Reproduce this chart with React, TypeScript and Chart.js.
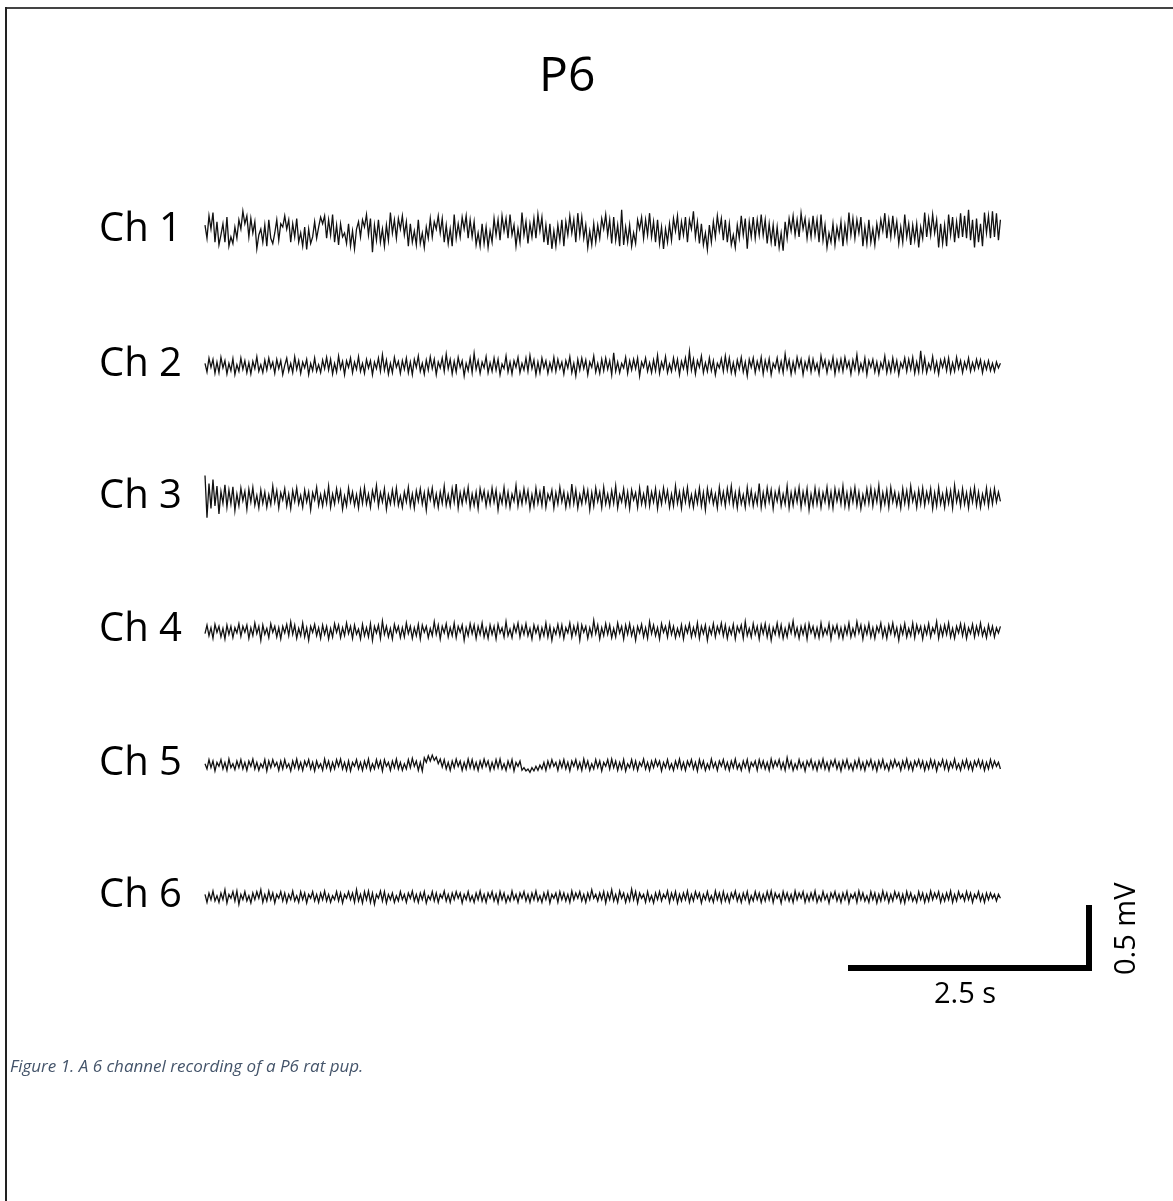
import React, { useEffect, useRef } from "react";
import { Chart, registerables } from "chart.js";

Chart.register(...registerables);

// ---------------- DATA (µV, ~400 samples per channel over ~8.15 s) ----------------
const titleText = "P6";
const channelLabels = ["Ch 1", "Ch 2", "Ch 3", "Ch 4", "Ch 5", "Ch 6"];
const captionText = "Figure 1. A 6 channel recording of a P6 rat pup.";
const traceDurationS = 8.15;
const scaleBarSeconds = 2.5;
const scaleBarMillivolts = 0.5;
const scaleBarTimeLabel = "2.5 s";
const scaleBarVoltLabel = "0.5 mV";

const ch1 = [
  45, -55, 115, 15, 140, -85, 70, -105, -30, 55, -85, 105, -115, -45, -95, 30, -55, 85, 15, 150,
  55, 115, -45, 95, -15, 70, -135, -30, 15, -85, 45, -115, 85, -55, -95, -15, 85, -70, 55, 30,
  115, 15, 85, -85, 55, -45, 95, -85, -15, -115, 30, -140, 15, -95, -45, 70, -55, 30, 105, 55,
  115, -55, 85, -30, 125, -85, 45, -105, 55, -45, -15, -95, 55, -115, 0, -135, 15, 70, -45, 85,
  30, 125, -30, 95, -160, 45, -70, 85, -85, 15, -115, 45, -70, 140, -15, 85, -55, 95, 15, 115,
  -30, 70, -115, 55, -85, 0, -105, 85, -95, -15, -125, 30, -55, 95, -45, 70, 15, 115, -15, 95,
  -85, 45, -95, 15, -115, 125, -55, 55, -45, 105, 15, 115, -55, 85, -45, 70, -105, -15, -115, 55,
  -95, 30, -125, 0, -85, 95, -30, 85, -70, 115, 0, 95, -55, 125, -30, 45, -115, 15, -85, 140,
  -30, 70, -95, 55, -45, 95, -55, 125, 0, 105, -85, 45, -105, 55, -135, 0, -115, 45, -70, 85,
  -115, 70, -30, 115, -15, 85, -85, 135, -30, 105, -55, 45, -125, 0, -105, 55, -85, 45, -55, 95,
  15, 125, -30, 85, -95, 105, -70, 45, -115, 160, -105, 30, -85, 45, -115, -15, -95, 85, 15, 105,
  -55, 85, -30, 135, -45, 70, -85, 85, -95, 30, -135, 15, -85, 55, -70, 95, 0, 115, -70, 70,
  -30, 105, -85, 85, 15, 150, -45, 70, -95, 55, -105, -15, -140, 45, -85, 70, -45, 115, 0, 95,
  -70, 85, -85, 55, -105, -30, -125, 45, -55, 115, -30, 95, -135, 70, -45, 105, -55, 85, -30, 125,
  -30, 85, -95, 55, -85, 45, -115, 30, -125, -15, -150, 70, -55, 95, 0, 115, -30, 85, -45, 135,
  15, 95, -55, 70, -45, 115, -30, 85, -85, 125, -70, 45, -125, -15, -85, 55, -105, 30, -55, 70,
  -115, 45, -70, 140, -30, 95, -55, 85, -15, 105, -115, 30, -95, 85, -85, 15, -105, 55, -45, 85,
  0, 135, -55, 85, -45, 115, -30, 70, -95, 30, -85, 125, -45, 55, -105, 45, -70, 55, -125, 30,
  -55, 140, -45, 95, -30, 125, -15, 85, -125, 55, -95, 45, -115, 125, -30, 105, -85, 70, -55, 135,
  -45, 115, -55, 160, -70, 85, -125, 95, -85, 55, -115, 140, -15, 115, -55, 150, -45, 135, -70, 85,
];

const ch2 = [
  20, -45, 60, -10, 50, -55, 30, -50, 65, -15, 40, -60, 20, -35, 55, -65, 10, -40, 60, -25,
  40, -50, 25, -60, 35, -20, 70, -40, 10, -50, 45, -30, 60, -15, 30, -55, 50, -20, 40, -65,
  5, 60, -40, 20, -50, 70, -25, 40, -55, 30, -15, 50, -65, 20, -35, 60, -40, 10, -50, 45,
  -20, 65, -30, 50, -60, 20, -45, 75, -20, 35, -65, 40, -10, 60, -50, 30, -25, 70, -40, 20,
  -55, 50, -15, 40, -65, 30, -20, 60, -40, 85, -30, 45, -60, 20, -50, 65, -10, 35, -55, 40,
  -25, 60, -50, 30, -65, 50, -10, 75, -40, 20, -60, 45, -30, 70, -20, 50, -65, 30, -15, 60,
  -40, 90, -20, 50, -60, 35, -45, 65, -10, 40, -75, 20, -35, 60, -50, 95, -25, 40, -55, 30,
  -15, 70, -50, 25, -40, 60, -30, 50, -65, 15, -20, 75, -45, 30, -60, 40, -10, 65, -50, 20,
  -30, 60, -40, 80, -20, 45, -65, 30, -50, 60, -15, 40, -55, 25, -35, 65, -40, 50, -20, 30,
  -60, 40, -15, 70, -50, 20, -75, 50, -30, 60, -20, 45, -65, 30, -10, 75, -45, 20, -55, 50,
  -35, 60, -25, 40, -65, 100, -40, 30, -50, 20, -15, 65, -55, 40, -30, 50, -20, 60, -75, 30,
  -10, 60, -40, 25, -50, 45, -35, 80, -55, 30, -20, 70, -50, 15, -40, 60, -25, 50, -65, 35,
  -20, 60, -45, 110, -30, 50, -60, 40, -10, 75, -50, 25, -40, 60, -35, 40, -65, 20, -15, 55,
  -40, 75, -30, 60, -50, 25, -60, 45, -20, 65, -45, 30, -75, 50, -10, 60, -50, 35, -25, 65,
  -60, 40, -30, 55, -65, 20, -15, 60, -40, 35, -50, 90, -20, 45, -60, 30, -45, 65, -10, 50,
  -65, 30, -25, 60, -45, 50, -30, 20, -60, 75, -10, 45, -50, 35, -20, 65, -60, 40, -35, 50,
  -40, 65, -15, 35, -60, 45, -25, 85, -50, 20, -35, 60, -65, 40, -10, 50, -45, 30, -60, 25,
  -20, 75, -50, 30, -45, 60, -35, 40, -65, 25, -15, 60, -40, 50, -25, 65, -55, 30, -45, 115,
  -35, 60, -50, 20, -25, 70, -40, 30, -60, 45, -10, 55, -35, 60, -50, 25, -40, 65, -20, 40,
  -50, 30, -20, 60, -40, 25, -30, 50, -15, 45, -50, 30, -25, 40, -35, 20, -40, 30, -15, 20,
];

const ch3 = [
  170, -150, 110, -80, 140, -60, 90, -120, 50, -40, 100, -70, 60, -45, 85, -95, 30, -60, 75, -20,
  50, -85, 65, -30, 80, -55, 20, -75, 60, -40, 45, -70, 25, -50, 90, -30, 55, -75, 40, -15,
  70, -60, 30, -80, 55, -25, 75, -45, 20, -70, 60, -30, 45, -90, 40, -15, 80, -55, 25, -60,
  45, -40, 90, -70, 30, -45, 70, -25, 55, -85, 15, -60, 75, -30, 45, -55, 25, -75, 60, -40,
  80, -45, 30, -70, 55, -15, 95, -60, 40, -30, 70, -85, 25, -45, 60, -40, 75, -55, 15, -70,
  45, -30, 80, -60, 30, -75, 55, -25, 70, -45, 40, -90, 60, -15, 75, -55, 30, -70, 45, -40,
  90, -55, 25, -60, 70, -30, 105, -75, 40, -45, 60, -25, 80, -70, 30, -55, 45, -80, 70, -15,
  55, -60, 40, -45, 75, -30, 60, -90, 25, -40, 80, -55, 45, -70, 30, -25, 95, -60, 40, -45,
  70, -30, 55, -80, 25, -60, 75, -40, 45, -55, 90, -70, 30, -15, 60, -75, 40, -45, 80, -30,
  45, -70, 30, -55, 105, -40, 60, -75, 25, -45, 70, -30, 55, -90, 40, -60, 75, -25, 45, -70,
  80, -45, 30, -60, 55, -40, 90, -75, 25, -30, 70, -55, 45, -80, 60, -15, 40, -70, 75, -45,
  30, -55, 95, -60, 45, -30, 70, -80, 40, -45, 75, -25, 55, -70, 30, -60, 90, -40, 45, -75,
  60, -30, 80, -55, 25, -70, 45, -40, 75, -60, 40, -90, 70, -25, 55, -45, 30, -75, 80, -40,
  45, -60, 70, -30, 90, -55, 40, -75, 60, -45, 25, -70, 80, -40, 55, -60, 30, -45, 110, -70,
  40, -55, 75, -30, 60, -80, 45, -25, 70, -60, 30, -45, 90, -75, 40, -55, 60, -30, 80, -70,
  45, -40, 70, -90, 30, -55, 75, -45, 55, -70, 40, -30, 80, -60, 45, -75, 70, -25, 55, -45,
  90, -60, 40, -70, 60, -30, 80, -55, 45, -80, 25, -45, 70, -40, 75, -60, 55, -30, 95, -75,
  40, -45, 60, -70, 80, -30, 45, -55, 30, -75, 70, -40, 55, -60, 90, -25, 40, -70, 60, -45,
  75, -55, 45, -30, 70, -80, 40, -60, 80, -45, 30, -70, 60, -40, 55, -75, 95, -30, 45, -60,
  70, -45, 40, -75, 60, -30, 80, -55, 45, -70, 30, -40, 75, -60, 55, -45, 70, -30, 45, -25,
];

const ch4 = [
  -20, 45, -35, 25, -55, 50, -10, 35, -45, 20, -60, 45, -25, 35, -50, 25, -15, 55, -40, 35,
  -10, 45, -55, 25, -35, 60, -20, 35, -70, 45, -25, 20, -50, 55, -10, 35, -45, 25, -60, 35,
  -15, 50, -35, 70, -25, 45, -55, 20, -35, 60, -45, 25, -70, 35, -10, 50, -35, 25, -55, 45,
  -25, 35, -60, 20, -45, 55, -10, 45, -50, 25, -35, 60, -20, 35, -55, 45, -25, 15, -60, 50,
  -35, 25, -45, 55, -70, 35, -15, 45, -55, 75, -25, 35, -45, 20, -60, 50, -10, 35, -50, 25,
  -45, 60, -20, 35, -55, 25, -35, 50, -60, 45, -10, 35, -50, 20, -35, 70, -25, 45, -60, 35,
  -15, 55, -45, 25, -35, 60, -50, 35, -10, 45, -70, 25, -35, 55, -20, 45, -55, 35, -25, 60,
  -45, 20, -55, 45, -25, 35, -60, 50, -15, 25, -45, 70, -35, 15, -50, 45, -10, 60, -45, 35,
  -25, 55, -35, 20, -60, 45, -15, 35, -55, 25, -35, 60, -45, 35, -70, 20, -25, 50, -35, 45,
  -55, 25, -15, 60, -45, 35, -25, 50, -70, 45, -10, 35, -55, 25, -35, 80, -20, 45, -60, 25,
  -35, 55, -25, 45, -50, 20, -45, 60, -15, 35, -60, 45, -25, 55, -35, 25, -70, 35, -15, 50,
  -45, 25, -55, 70, -20, 45, -35, 25, -60, 55, -10, 35, -45, 60, -25, 35, -50, 20, -35, 45,
  -60, 35, -15, 55, -45, 25, -35, 60, -55, 35, -20, 45, -70, 25, -25, 55, -45, 35, -15, 60,
  -35, 45, -55, 25, -25, 50, -60, 35, -10, 45, -55, 70, -35, 20, -45, 55, -25, 35, -60, 45,
  -20, 55, -45, 35, -70, 25, -25, 60, -35, 45, -55, 20, -45, 50, -15, 75, -35, 25, -55, 35,
  -25, 45, -60, 55, -15, 35, -45, 25, -50, 60, -35, 20, -25, 55, -60, 35, -15, 45, -45, 25,
  -55, 35, -25, 60, -45, 20, -35, 70, -15, 45, -60, 35, -25, 55, -45, 25, -55, 35, -10, 60,
  -45, 25, -55, 45, -20, 60, -35, 25, -70, 35, -25, 55, -45, 20, -35, 60, -50, 45, -15, 35,
  -60, 35, -25, 55, -45, 25, -15, 70, -55, 35, -35, 45, -25, 60, -45, 20, -55, 35, -15, 55,
  -35, 45, -55, 25, -20, 50, -45, 35, -25, 60, -35, 20, -50, 45, -25, 35, -45, 25, -15, 35,
];

const ch5 = [
  10, -30, 40, -20, 30, -45, 20, -10, 40, -30, 20, -40, 45, -20, 10, -35, 30, -20, 40, -30,
  20, -40, 30, -10, 45, -30, 20, -40, 10, -20, 40, -45, 30, -20, 40, -10, 20, -40, 30, -30,
  40, -20, 10, -45, 30, -20, 45, -30, 20, -40, 30, -10, 40, -30, 20, -45, 30, -20, 10, -40,
  45, -20, 30, -40, 20, -30, 40, -10, 45, -30, 20, -40, 30, -45, 20, -10, 40, -30, 20, -40,
  30, -20, 45, -40, 10, -30, 40, -20, 30, -45, 40, -10, 20, -40, 30, -20, 45, -30, 20, -40,
  10, -30, 40, -20, 50, -10, 30, -40, 20, -45, 55, 20, 70, 30, 75, 35, 60, 10, 45, -15,
  40, -30, 20, -40, 30, -20, 45, -10, 30, -40, 20, -30, 45, -20, 40, -30, 20, -40, 30, -20,
  45, -10, 30, -40, 20, -30, 40, -20, 45, -30, 10, -40, 30, -20, 40, -45, 20, -10, 30, -40,
  -20, -45, -30, -55, -20, -45, -10, -40, 0, -30, 20, -40, 30, -20, 40, -10, 20, -40, 30, -20,
  40, -30, 20, -45, 30, -10, 40, -30, 20, -40, 45, -20, 30, -40, 10, -30, 40, -20, 30, -45,
  20, -10, 40, -30, 45, -20, 30, -40, 20, -30, 40, -45, 10, -20, 40, -30, 30, -40, 20, -10,
  45, -30, 20, -40, 30, -20, 40, -10, 30, -45, 20, -20, 40, -30, 10, -40, 30, -20, 45, -30,
  20, -40, 30, -10, 40, -30, 20, -45, 40, -20, 30, -40, 10, -30, 45, -20, 20, -40, 30, -10,
  40, -30, 20, -40, 30, -20, 45, -30, 10, -40, 30, -20, 40, -45, 20, -10, 30, -40, 40, -20,
  30, -30, 20, -40, 45, -20, 30, -10, 40, -30, 20, -40, 55, -20, 30, -40, 10, -30, 40, -20,
  20, -45, 30, -10, 40, -30, 20, -40, 30, -20, 45, -30, 20, -40, 30, -10, 40, -30, 20, -45,
  30, -20, 40, -30, 10, -40, 30, -20, 45, -30, 20, -40, 30, -10, 40, -30, 20, -45, 30, -20,
  40, -30, 10, -40, 30, -20, 40, -10, 20, -40, 30, -20, 45, -30, 20, -40, 30, -10, 40, -20,
  30, -40, 20, -30, 40, -20, 30, -45, 20, -10, 40, -30, 30, -40, 20, -20, 45, -30, 10, -40,
  30, -20, 40, -30, 20, -40, 30, -10, 40, -20, 30, -40, 20, -30, 40, -20, 30, -10, 20, -30,
];

const ch6 = [
  20, -40, 30, -20, 45, -30, 10, -40, 30, -20, 55, -45, 20, -10, 40, -30, 45, -55, 20, -20,
  40, -30, 10, -45, 30, -20, 40, -10, 55, -40, 20, -30, 45, -20, 30, -45, 20, -10, 40, -30,
  30, -40, 20, -20, 45, -30, 10, -40, 40, -20, 30, -45, 20, -10, 40, -30, 20, -40, 30, -20,
  45, -30, 20, -40, 10, -20, 40, -30, 30, -45, 20, -10, 40, -20, 30, -40, 55, -30, 20, -45,
  40, -20, 45, -40, 30, -55, 20, -10, 45, -30, 40, -45, 20, -20, 30, -40, 10, -30, 40, -20,
  20, -40, 30, -10, 45, -30, 20, -40, 30, -20, 40, -45, 10, -20, 40, -30, 30, -40, 20, -10,
  45, -30, 20, -40, 30, -20, 40, -10, 30, -45, 20, -20, 40, -30, 10, -40, 30, -20, 45, -30,
  20, -40, 30, -10, 40, -30, 20, -45, 40, -20, 30, -40, 10, -30, 45, -20, 20, -40, 30, -10,
  40, -30, 20, -40, 30, -20, 45, -30, 10, -40, 30, -20, 40, -45, 20, -10, 30, -40, 40, -20,
  30, -30, 20, -40, 45, -20, 30, -10, 40, -30, 20, -40, 30, -20, 55, -10, 20, -30, 30, -20,
  40, -45, 30, -20, 55, -30, 20, -40, 45, -10, 30, -40, 20, -30, 60, -20, 40, -45, 30, -10,
  20, -40, 40, -30, 10, -45, 30, -20, 40, -30, 20, -10, 45, -40, 30, -20, 40, -45, 20, -30,
  30, -20, 45, -40, 20, -30, 40, -10, 30, -45, 20, -20, 40, -30, 10, -40, 45, -20, 30, -40,
  40, -30, 20, -40, 30, -10, 45, -30, 20, -40, 30, -20, 40, -45, 10, -30, 40, -20, 30, -40,
  20, -30, 40, -20, 45, -40, 30, -10, 20, -45, 40, -20, 30, -30, 20, -40, 45, -20, 30, -10,
  40, -40, 20, -30, 30, -20, 45, -40, 10, -30, 40, -20, 20, -45, 30, -10, 40, -30, 20, -40,
  30, -20, 40, -45, 20, -10, 30, -40, 45, -20, 30, -30, 10, -40, 40, -20, 30, -45, 20, -30,
  45, -20, 30, -40, 20, -30, 40, -10, 30, -40, 20, -45, 40, -20, 30, -30, 10, -40, 40, -20,
  30, -40, 20, -30, 45, -20, 30, -10, 40, -40, 20, -30, 30, -20, 45, -40, 20, -30, 40, -10,
  20, -30, 40, -20, 30, -40, 20, -10, 40, -30, 20, -40, 30, -20, 30, -10, 20, -30, 20, -10,
];

const channels = [ch1, ch2, ch3, ch4, ch5, ch6];

// ---------------- LAYOUT ----------------
const W = 1173;
const H = 1201;
const FONT = '"Open Sans", "DejaVu Sans", sans-serif';
const PX_PER_S = 97.6;
const PX_PER_MV = 132;
const TRACE_LEFT = 205;
const channelCenterPx = [231, 366, 498, 631, 765, 897];
const barRightPx = 1092;
const barYPx = 968;
const barVertXPx = 1089;
const barBottomPx = 971;

const pxToT = (px: number) => (px - TRACE_LEFT) / PX_PER_S;
const pxToMv = (py: number) => -py / PX_PER_MV;

export default function App() {
  const ref = useRef<HTMLCanvasElement | null>(null);

  useEffect(() => {
    if (!ref.current) return;
    const datasets: any[] = channels.map((vals, k) => {
      const dt = traceDurationS / (vals.length - 1);
      const base = pxToMv(channelCenterPx[k]);
      return {
        label: channelLabels[k],
        data: vals.map((v, i) => ({ x: i * dt, y: base + v / 1000 })),
        borderColor: "#111",
        borderWidth: 1.3,
        pointRadius: 0,
        tension: 0,
        fill: false,
      };
    });
    const barEnd = pxToT(barRightPx);
    const barY = pxToMv(barYPx);
    datasets.push({
      label: "time bar",
      data: [
        { x: barEnd - scaleBarSeconds, y: barY },
        { x: barEnd, y: barY },
      ],
      borderColor: "#000",
      borderWidth: 6,
      borderCapStyle: "butt",
      pointRadius: 0,
    });
    const vx = pxToT(barVertXPx);
    const vb = pxToMv(barBottomPx);
    datasets.push({
      label: "volt bar",
      data: [
        { x: vx, y: vb },
        { x: vx, y: vb + scaleBarMillivolts },
      ],
      borderColor: "#000",
      borderWidth: 6,
      borderCapStyle: "butt",
      pointRadius: 0,
    });

    const chart = new Chart(ref.current, {
      type: "line",
      data: { datasets },
      options: {
        animation: false,
        responsive: false,
        maintainAspectRatio: false,
        layout: { padding: 0 },
        plugins: { legend: { display: false }, tooltip: { enabled: false }, title: { display: false } },
        scales: {
          x: { type: "linear", display: false, min: pxToT(0), max: pxToT(W) },
          y: { type: "linear", display: false, min: pxToMv(H), max: 0 },
        },
      },
    });
    return () => chart.destroy();
  }, []);

  const labelSize = 40;
  return (
    <div style={{ position: "absolute", left: 0, top: 0, width: W, height: H, background: "#fff", overflow: "hidden", fontFamily: FONT }}>
      <div style={{ position: "absolute", left: 5, top: 7, width: W - 5, height: 2, background: "#444" }} />
      <div style={{ position: "absolute", left: 5, top: 7, width: 2, height: H - 7, background: "#222" }} />
      <canvas ref={ref} width={W} height={H} style={{ position: "absolute", left: 0, top: 0 }} />
      <div style={{ position: "absolute", left: 539, top: 49, fontSize: 48, lineHeight: "48px", color: "#000" }}>{titleText}</div>
      {channelLabels.map((lab, k) => (
        <div key={lab} style={{ position: "absolute", left: 99, top: channelCenterPx[k] - 25, fontSize: labelSize, lineHeight: `${labelSize}px`, color: "#000", whiteSpace: "nowrap" }}>
          {lab}
        </div>
      ))}
      <div style={{ position: "absolute", left: 934, top: 977, fontSize: 29, lineHeight: "29px", color: "#000", whiteSpace: "nowrap" }}>{scaleBarTimeLabel}</div>
      <div style={{ position: "absolute", left: 1109, top: 975, transform: "rotate(-90deg)", transformOrigin: "0 0", fontSize: 29, lineHeight: "29px", color: "#000", whiteSpace: "nowrap" }}>{scaleBarVoltLabel}</div>
      <div style={{ position: "absolute", left: 10, top: 1056, fontSize: 17, lineHeight: "20px", fontStyle: "italic", color: "#44546A", whiteSpace: "nowrap" }}>{captionText}</div>
    </div>
  );
}
